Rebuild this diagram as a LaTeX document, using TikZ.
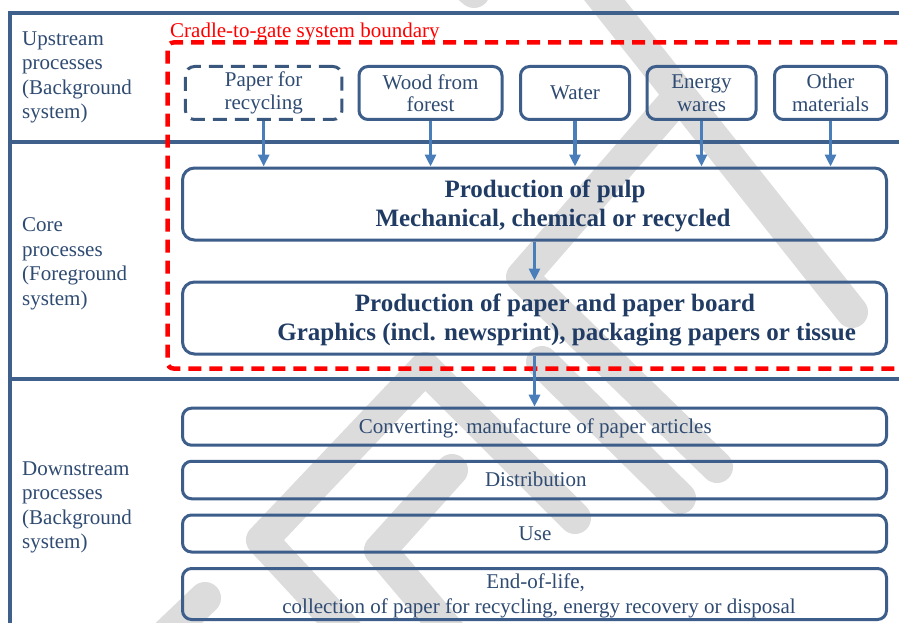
\documentclass[tikz,border=0pt]{standalone}
\usepackage{fontspec}
\setmainfont{Liberation Serif}
\usetikzlibrary{arrows.meta}
\definecolor{frameblue}{HTML}{3F608B}
\definecolor{boxblue}{HTML}{3D5E8A}
\definecolor{dashblue}{HTML}{3A587E}
\definecolor{arrowblue}{HTML}{4A7EBB}
\definecolor{txtblue}{HTML}{2F4B72}
\definecolor{boldblue}{HTML}{203C64}
\definecolor{wmgray}{HTML}{DCDCDC}
\begin{document}
\begin{tikzpicture}[x=1pt,y=-1pt,
 lbl/.style={anchor=base west, align=left, text=txtblue, inner sep=0pt, font=\fontsize{21}{24.5}\selectfont},
 upbox/.style={draw=boxblue, line width=3pt, rounded corners=9pt, minimum height=53pt, inner sep=0pt, align=center, text=txtblue, font=\fontsize{21}{22.5}\selectfont},
 bigbox/.style={draw=boxblue, line width=3pt, rounded corners=12pt, minimum width=704pt, inner sep=0pt},
 smallbox/.style={draw=boxblue, line width=3pt, rounded corners=9pt, minimum width=704pt, inner sep=0pt},
 boldtxt/.style={anchor=base, inner sep=0pt, text=boldblue, font=\fontsize{25}{28}\selectfont\bfseries},
 plaintxt/.style={anchor=base, inner sep=0pt, text=txtblue, font=\fontsize{21}{24}\selectfont},
 arr/.style={draw=arrowblue, line width=3.5pt, -{Triangle[width=11pt,length=12pt]}},
 frameline/.style={draw=frameblue, line width=4pt},
 boundary/.style={draw=red, line width=4.5pt, dash pattern=on 13pt off 8pt, rounded corners=6pt},
 wmstroke/.style={draw=wmgray, line width=32pt, line cap=round, line join=round}
]
\useasboundingbox (0,0) rectangle (899,623);
\fill[white] (0,0) rectangle (899,623);
\clip (0,0) rectangle (899,623);

% DRAFT watermark (grey strokes)
\draw[wmstroke] (717,467) -- (522,277) -- (680,95);
\draw[wmstroke] (595,-12) -- (852,312);
\draw[wmstroke] (542,362) -- (680,498);
\draw[wmstroke] (350,635) -- (262,540) -- (425,368) -- (575,518);
\draw[wmstroke] (452,635) -- (380,550) -- (452,470);
\draw[wmstroke] (140,660) -- (205,598);
\draw[wmstroke] (430,-45) -- (474,-8);

% frame
\draw[frameline] (960,13) -- (10.3,13) -- (10.3,660);
\draw[frameline] (10.3,142) -- (960,142);
\draw[frameline] (10.3,379) -- (960,379);

% system boundary
\coordinate (bTR) at (960,42.5);
\coordinate (bBR) at (960,368.5);
\draw[boundary] (bTR) -- (167.5,42.5) -- (167.5,368.5) -- (bBR);
\node[anchor=base west, inner sep=0pt, text=red, font=\fontsize{21}{24}\selectfont] (cglabel) at (170,37.5) {Cradle-to-gate system boundary};

% left labels (anchored at the baseline of the last line)
\node[lbl] (lup) at (22,118.5) {Upstream\\processes\\(Background\\system)};
\node[lbl] (lcore) at (22,305) {Core\\processes\\(Foreground\\system)};
\node[lbl] (ldown) at (22,548.5) {Downstream\\processes\\(Background\\system)};

% upstream boxes
\node[upbox, draw=dashblue, dash pattern=on 14pt off 8pt, minimum width=156.5pt] (prec) at (263.7,93) {Paper for\\recycling};
\node[upbox, minimum width=143pt] (wood) at (430.5,93) {Wood from\\forest};
\node[upbox, minimum width=109pt] (water) at (575,93) {Water};
\node[upbox, minimum width=109pt] (energy) at (701.5,93) {Energy\\wares};
\node[upbox, minimum width=112pt] (other) at (830.5,93) {Other\\materials};

% core boxes
\node[bigbox, minimum height=72pt] (pulp) at (534.5,204) {};
\node[boldtxt] (pulpA) at (545,197.7) {Production of pulp};
\node[boldtxt] (pulpB) at (553,226.7) {Mechanical, chemical or recycled};
\node[bigbox, minimum height=72pt] (paper) at (534.5,318) {};
\node[boldtxt] (paperA) at (555,311.7) {Production of paper and paper board};
\node[boldtxt] (paperB) at (566.7,340) {Graphics (incl. newsprint), packaging papers or tissue};

% downstream boxes
\node[smallbox, minimum height=37pt] (conv) at (534.5,426.7) {};
\node[plaintxt] (convT) at (535.3,433.3) {Converting: manufacture of paper articles};
\node[smallbox, minimum height=37.5pt] (dist) at (534.5,480) {};
\node[plaintxt] (distT) at (535.8,486.7) {Distribution};
\node[smallbox, minimum height=37pt] (use) at (534.5,533.5) {};
\node[plaintxt] (useT) at (535,540) {Use};
\node[smallbox, minimum height=51pt] (eol) at (534.5,594) {};
\node[plaintxt] (eolA) at (535.7,588.3) {End-of-life,};
\node[plaintxt] (eolB) at (539,613) {collection of paper for recycling, energy recovery or disposal};

% arrows
\foreach \n in {prec,wood,water,energy,other}
  \draw[arr] (\n.south) -- (\n.south |- pulp.north);
\draw[arr] (pulp.south) -- (paper.north);
\draw[arr] (paper.south) -- (conv.north);
\end{tikzpicture}
\end{document}
